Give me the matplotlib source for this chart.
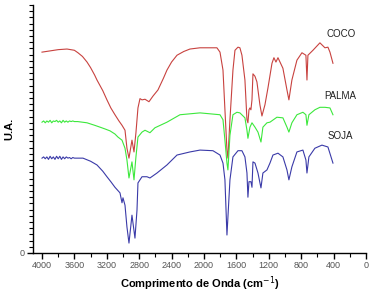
import matplotlib.pyplot as plt
from matplotlib.ticker import MultipleLocator, FixedLocator

plt.rcParams['font.family'] = ['Liberation Sans', 'DejaVu Sans']

# COCO (red) - wavenumber (cm-1) and intensity (arbitrary units)
coco_wn = [4000, 3900, 3800, 3691, 3600, 3556, 3500, 3444, 3400, 3350, 3321, 3250, 3198, 3150,
           3099, 3050, 3012, 2975, 2951, 2926, 2889, 2864, 2840,
           2815, 2790, 2765, 2728, 2679, 2630, 2568, 2500, 2457, 2400, 2333, 2250, 2173, 2049,
           1889, 1840, 1802, 1765,
           1741, 1716, 1704, 1679, 1642, 1617, 1580, 1556, 1531, 1494, 1469, 1457, 1444, 1432,
           1420, 1407, 1395, 1370, 1346, 1309, 1284, 1247, 1210, 1160, 1136, 1111, 1086, 1025,
           975, 951, 914, 852, 790, 741, 728, 716, 654, 568, 506, 469, 444, 407]
coco_ua = [32.4, 32.6, 32.8, 32.9, 32.7, 32.3, 31.7, 30.8, 29.9, 28.7, 27.9, 26.2, 24.7, 23.4,
           22.3, 21.3, 20.6, 19.8, 16.9, 15.3, 18.2, 16.3, 19.4,
           23.4, 24.9, 24.7, 24.8, 24.4, 25.3, 26.3, 28.2, 29.5, 30.8, 31.9, 32.5, 32.9, 33.1,
           33.1, 33.1, 32.4, 29.5,
           23.1, 16.6, 15.3, 21.5, 29.5, 32.7, 33.2, 33.1, 31.9, 27.9, 21.5, 21.0, 23.1, 23.4,
           23.1, 24.7, 28.9, 28.5, 27.6, 23.9, 22.1, 23.9, 26.6, 30.6, 31.5, 30.8, 31.5, 29.8,
           26.3, 24.7, 27.9, 31.1, 32.3, 31.9, 27.9, 31.9, 32.7, 33.9, 33.1, 33.2, 32.4, 30.6]

# PALMA (green)
palma_wn = [4000, 3980, 3960, 3940, 3920, 3900, 3880, 3860, 3840, 3820, 3800, 3780, 3760,
            3740, 3720, 3700, 3680, 3660, 3640, 3620, 3600, 3560,
            3444, 3350, 3284, 3220, 3160, 3100, 3062, 3012, 2975, 2951, 2926, 2889, 2864, 2840,
            2815, 2765, 2728, 2667, 2605, 2457, 2296, 2049, 1802, 1765, 1741, 1716, 1704, 1679,
            1642, 1593, 1556, 1494, 1469, 1457, 1432, 1407, 1370, 1333, 1296, 1272, 1222, 1185,
            1099, 1025, 975, 951, 914, 852, 778, 741, 728, 704, 630, 568, 506, 444, 407]
palma_ua = [21.1, 21.3, 21.0, 21.3, 21.1, 21.4, 21.0, 21.3, 21.2, 21.4, 21.1, 21.3, 21.0,
            21.4, 21.1, 21.3, 21.1, 21.3, 21.2, 21.3, 21.2, 21.2,
            21.0, 20.6, 20.3, 20.0, 19.7, 19.2, 18.7, 18.2, 16.9, 15.0, 12.1, 14.7, 11.8, 15.5,
            18.7, 19.5, 19.8, 19.4, 20.2, 21.1, 22.3, 22.6, 22.3, 21.5, 18.2, 14.5, 13.4, 19.0,
            22.3, 22.7, 22.6, 21.8, 19.8, 18.5, 20.3, 21.0, 20.3, 19.5, 17.9, 20.3, 21.0, 21.1,
            21.9, 21.8, 20.3, 19.5, 21.0, 22.3, 22.7, 22.3, 20.6, 22.3, 23.1, 23.5, 23.5, 23.4, 22.3]

# SOJA (blue)
soja_wn = [4000, 3980, 3960, 3940, 3920, 3900, 3880, 3860, 3840, 3820, 3800, 3780, 3760,
           3740, 3720, 3700, 3680, 3660, 3640, 3620, 3600, 3560,
           3494, 3400, 3321, 3250, 3198, 3150, 3099, 3037, 3012, 3000, 2975, 2951, 2926, 2889, 2852,
           2827, 2815, 2765, 2704, 2667, 2580, 2457, 2333, 2173, 2049, 1889, 1802, 1765, 1741,
           1716, 1679, 1642, 1580, 1531, 1494, 1469, 1457, 1444, 1420, 1407, 1395, 1370, 1333,
           1296, 1272, 1222, 1185, 1148, 1086, 1025, 975, 951, 914, 852, 778, 741, 728, 704,
           630, 543, 469, 407]
soja_ua = [15.3, 15.5, 15.2, 15.5, 15.1, 15.6, 15.2, 15.5, 15.1, 15.6, 15.2, 15.6, 15.1,
           15.5, 15.2, 15.5, 15.3, 15.4, 15.2, 15.4, 15.3, 15.3,
           15.3, 14.8, 14.2, 13.2, 12.3, 11.5, 10.6, 9.7, 8.1, 8.9, 7.7, 4.2, 1.6, 6.1, 2.4,
           6.9, 11.3, 12.3, 12.3, 12.1, 12.9, 14.2, 15.8, 16.3, 16.6, 16.5, 15.8, 14.5, 11.8,
           2.9, 11.8, 15.5, 16.5, 16.5, 15.5, 12.9, 9.0, 11.5, 11.5, 10.6, 14.7, 14.5, 12.9,
           10.5, 12.9, 13.4, 14.5, 15.8, 16.1, 15.5, 13.4, 11.8, 13.9, 16.3, 16.6, 15.0, 12.9,
           15.5, 16.9, 17.4, 17.1, 14.5]

fig = plt.figure(figsize=(3.73, 2.95), dpi=100)
ax = fig.add_axes([0.0885, 0.1424, 0.8925, 0.8406])

ax.plot(coco_wn, coco_ua, color='#c8423f', lw=0.8)
ax.plot(palma_wn, palma_ua, color='#3ce83c', lw=0.8)
ax.plot(soja_wn, soja_ua, color='#3a3aa8', lw=0.8)

ax.text(310, 35.4, 'COCO', fontsize=7, color='#222222', ha='center', va='center')
ax.text(315, 25.4, 'PALMA', fontsize=7, color='#222222', ha='center', va='center')
ax.text(322, 18.8, 'SOJA', fontsize=7, color='#222222', ha='center', va='center')

ax.set_xlim(4111, 0)
ax.set_ylim(0, 40)
ax.spines['top'].set_visible(False)
ax.spines['right'].set_visible(False)
for s in ['left', 'bottom']:
    ax.spines[s].set_linewidth(1.0)

ax.xaxis.set_major_locator(MultipleLocator(400))
ax.xaxis.set_minor_locator(MultipleLocator(200))
ax.yaxis.set_major_locator(FixedLocator([0]))
ax.yaxis.set_minor_locator(MultipleLocator(1))
ax.tick_params(axis='both', which='major', length=4, width=1, labelsize=6.5,
               labelcolor='#555555', pad=2)
ax.tick_params(axis='both', which='minor', length=3, width=0.8)

ax.set_xlabel('Comprimento de Onda (cm$^{-1}$)', fontsize=8, fontweight='bold', labelpad=3)
ax.set_ylabel('U.A.', fontsize=8, fontweight='bold', labelpad=4)

fig.savefig('out.png', dpi=100)
